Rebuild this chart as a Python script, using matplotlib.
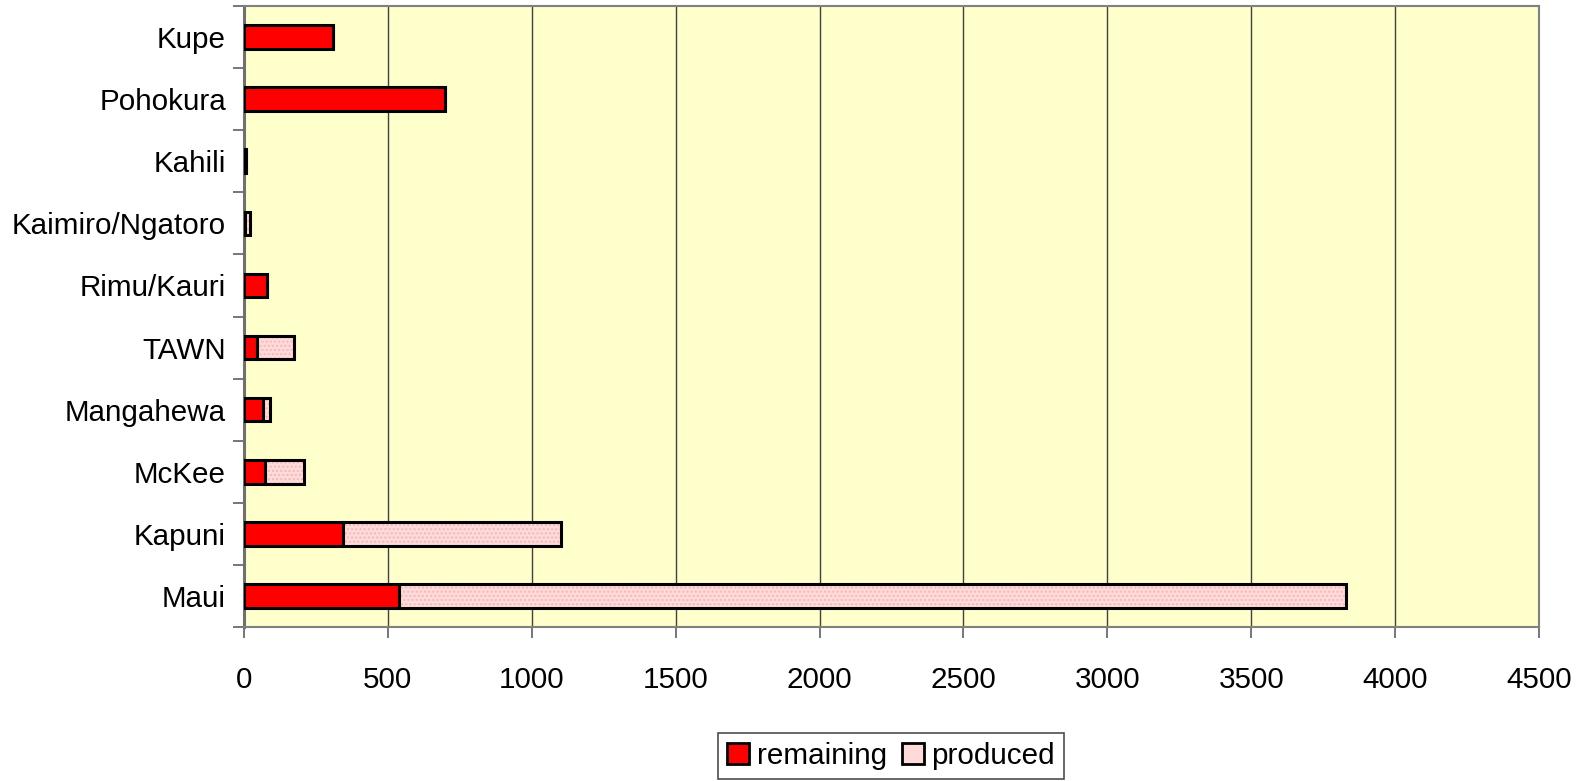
import matplotlib
matplotlib.use("Agg")
import matplotlib.pyplot as plt
from matplotlib.patches import Patch
import numpy as np

categories = ["Maui", "Kapuni", "McKee", "Mangahewa", "TAWN", "Rimu/Kauri",
              "Kaimiro/Ngatoro", "Kahili", "Pohokura", "Kupe"]
remaining = [540, 345, 73, 66, 45, 80, 2, 6, 700, 310]
produced = [3290, 755, 135, 24, 130, 0, 20, 0, 0, 0]
xticks = [0, 500, 1000, 1500, 2000, 2500, 3000, 3500, 4000, 4500]

plt.rcParams['font.family'] = ['Liberation Sans', 'DejaVu Sans']
fs = 21.3

fig = plt.figure(figsize=(15.81, 7.81), dpi=100)
ax = fig.add_axes([244/1581, 1-627/781, (1539-244)/1581, (627-6)/781])
ax.set_facecolor('#FFFFCC')

y = np.arange(len(categories))
h = 0.38
red = '#FF0000'
pink = '#FFDADA'
ax.barh(y, remaining, height=h, color=red, edgecolor='black', linewidth=2.2, zorder=3)
ax.barh(y, produced, left=remaining, height=h, color=pink, edgecolor='none', linewidth=0, zorder=3)
ax.barh(y, produced, left=remaining, height=h, color='none', edgecolor='#F4B8B8', hatch='....', linewidth=0, zorder=3)
ax.barh(y, produced, left=remaining, height=h, color='none', edgecolor='black', linewidth=2.2, zorder=4)

ax.set_xlim(0, 4500)
ax.set_ylim(-0.5, len(categories) - 0.5)
ax.set_xticks(xticks)
ax.set_xticklabels([str(t) for t in xticks], fontsize=fs)
ax.set_yticks(y)
ax.set_yticklabels(categories, fontsize=fs)
ax.tick_params(axis='y', which='major', length=0, pad=13)
ax.set_yticks(np.arange(-0.5, len(categories), 1), minor=True)
ax.tick_params(axis='y', which='minor', length=8, width=1.2, color='#606060')
ax.tick_params(axis='x', which='major', length=8, width=1.2, color='#606060', pad=20)
ax.grid(axis='x', color='#404040', linewidth=1, zorder=0)
ax.set_axisbelow(True)
for s in ax.spines.values():
    s.set_color('#808080')
    s.set_linewidth(1.5)
ax.spines['left'].set_linewidth(2.2)
ax.spines['left'].set_color('#707070')

handles = [Patch(facecolor=red, edgecolor='black', linewidth=2),
           Patch(facecolor=pink, edgecolor='black', linewidth=2)]
leg = fig.legend(handles, ['remaining', 'produced'], loc='upper center',
                 bbox_to_anchor=(891/1581, 1-733/781), ncol=2, fontsize=fs,
                 frameon=True, fancybox=False, handlelength=0.75, handleheight=0.75,
                 handletextpad=0.25, columnspacing=0.5, borderpad=0.3, borderaxespad=0)
leg.get_frame().set_edgecolor('#202020')
leg.get_frame().set_linewidth(1.2)

fig.savefig('out.png', dpi=100)
